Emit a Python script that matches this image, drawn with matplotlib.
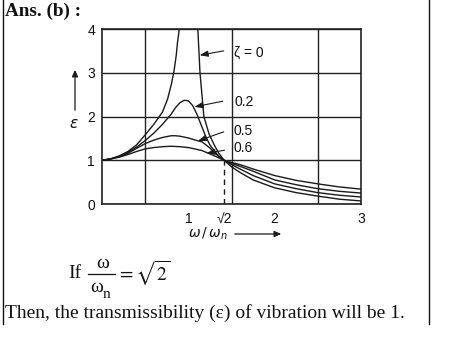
import numpy as np
import matplotlib
matplotlib.use("Agg")
import matplotlib.pyplot as plt

# ---- data (frequency ratio r = omega/omega_n, transmissibility eps) ----
z0_left_r = [0, 0.1, 0.2, 0.3, 0.4, 0.5, 0.6, 0.7, 0.76, 0.805, 0.835, 0.86, 0.875, 0.895]
z0_left_e = [1, 1.03, 1.1, 1.2, 1.35, 1.58, 1.82, 2.1, 2.4, 2.75, 3.05, 3.4, 3.7, 4.0]

z0_right_r = [1.11, 1.135, 1.18, 1.24, 1.3, 1.35, 1.414, 1.5, 1.6, 1.75, 2.0, 2.25, 2.5, 2.75, 3.0]
z0_right_e = [4.0, 3.0, 2.0, 1.6, 1.35, 1.17, 1.0, 0.85, 0.72, 0.55, 0.37, 0.26, 0.18, 0.11, 0.07]

z02_r = [0, 0.1, 0.2, 0.3, 0.4, 0.5, 0.6, 0.7, 0.8, 0.85, 0.9, 0.95, 1.0, 1.05, 1.1, 1.15, 1.2, 1.25,
         1.3, 1.35, 1.414, 1.5, 1.6, 1.75, 2.0, 2.25, 2.5, 2.75, 3.0]
z02_e = [1, 1.03, 1.09, 1.18, 1.3, 1.45, 1.62, 1.82, 2.05, 2.2, 2.31, 2.37, 2.36, 2.25, 2.05, 1.8,
         1.55, 1.35, 1.22, 1.1, 1.0, 0.9, 0.8, 0.65, 0.46, 0.35, 0.26, 0.2, 0.16]

z05_r = [0, 0.1, 0.2, 0.3, 0.4, 0.5, 0.6, 0.7, 0.8, 0.85, 0.9, 1.0, 1.05, 1.1, 1.16, 1.25, 1.3, 1.35,
         1.414, 1.5, 1.6, 1.75, 2.0, 2.25, 2.5, 2.75, 3.0]
z05_e = [1, 1.03, 1.08, 1.16, 1.27, 1.38, 1.46, 1.52, 1.56, 1.56, 1.55, 1.51, 1.48, 1.45, 1.42, 1.28,
         1.18, 1.09, 1.0, 0.93, 0.86, 0.75, 0.55, 0.44, 0.35, 0.29, 0.25]

z06_r = [0, 0.1, 0.2, 0.3, 0.4, 0.5, 0.6, 0.7, 0.8, 0.9, 1.0, 1.05, 1.16, 1.28, 1.414, 1.5, 1.6, 1.75,
         2.0, 2.25, 2.5, 2.75, 3.0]
z06_e = [1, 1.03, 1.07, 1.13, 1.2, 1.26, 1.29, 1.31, 1.32, 1.31, 1.29, 1.27, 1.22, 1.12, 1.0, 0.95,
         0.9, 0.8, 0.65, 0.54, 0.46, 0.39, 0.34]

x_tick_vals = [1, 1.414, 2, 3]
x_tick_labels = ["1", "√2", "2", "3"]
y_tick_vals = [0, 1, 2, 3, 4]
curve_labels = ["ζ = 0", "0.2", "0.5", "0.6"]

W, H = 457, 361
fig = plt.figure(figsize=(W / 100, H / 100), dpi=100)
fig.patch.set_facecolor("white")

ax = fig.add_axes([102 / W, 1 - 204 / H, 259 / W, 175 / H])
ax.set_xlim(0, 3)
ax.set_ylim(0, 4)

lc = "#1a1a1a"
lw = 1.0
ax.plot(z0_left_r, z0_left_e, color=lc, lw=lw)
ax.plot(z0_right_r, z0_right_e, color=lc, lw=lw)
ax.plot(z02_r, z02_e, color=lc, lw=lw)
ax.plot(z05_r, z05_e, color=lc, lw=lw)
ax.plot(z06_r, z06_e, color=lc, lw=lw)

# dashed line at sqrt(2)
ax.plot([x_tick_vals[1], x_tick_vals[1]], [0, 1], color=lc, lw=1.0, ls=(0, (4, 3)))

# grid
ax.set_xticks(x_tick_vals)
ax.set_xticklabels(x_tick_labels)
ax.set_xticks(np.arange(0.5, 3.0, 0.5), minor=True)
ax.set_yticks(y_tick_vals)
ax.xaxis.grid(True, which="minor", color="#222222", lw=1.0)
ax.yaxis.grid(True, which="major", color="#222222", lw=1.0)
ax.tick_params(which="both", length=0)
ax.tick_params(axis="x", pad=6)
ax.tick_params(axis="y", pad=5)
for lab in ax.get_xticklabels() + ax.get_yticklabels():
    lab.set_fontfamily("Liberation Sans")
    lab.set_fontsize(10)
    lab.set_color("#111111")
for s in ax.spines.values():
    s.set_color("#222222")
    s.set_linewidth(1.2)

# curve labels with arrows
ann = dict(arrowstyle="-|>,head_length=0.5,head_width=0.18", color=lc, lw=0.8, shrinkA=0, shrinkB=0)
label_pos = [(1.53, 3.47), (1.53, 2.33), (1.52, 1.67), (1.52, 1.29)]
arrow_tail = [(1.41, 3.5), (1.40, 2.35), (1.41, 1.65), (1.42, 1.23)]
arrow_head = [(1.13, 3.4), (1.07, 2.22), (1.11, 1.44), (1.21, 1.16)]
for txt, lp, at, ah in zip(curve_labels, label_pos, arrow_tail, arrow_head):
    ax.text(lp[0], lp[1], txt, fontsize=10, family="Liberation Sans", va="center", ha="left",
            color="#111111")
    ax.annotate("", xy=ah, xytext=at, arrowprops=ann)

# y label with arrow
fig.text(74 / W, 1 - 123 / H, "ε", fontsize=11, family="DejaVu Sans", style="italic",
         ha="center", va="center", color="#111111")
fig.add_artist(matplotlib.patches.FancyArrowPatch((75 / W, 1 - 113 / H), (75 / W, 1 - 67 / H),
               transform=fig.transFigure, arrowstyle="-|>,head_length=4,head_width=1.8",
               color=lc, lw=0.9, mutation_scale=1))
# x label with arrow
fig.text(208 / W, 1 - 234 / H, r"$\omega\,/\,\omega_n$", fontsize=10, ha="center", va="center",
         color="#111111")
fig.add_artist(matplotlib.patches.FancyArrowPatch((232 / W, 1 - 234 / H), (284 / W, 1 - 234 / H),
               transform=fig.transFigure, arrowstyle="-|>,head_length=4,head_width=1.8",
               color=lc, lw=0.9, mutation_scale=1))

# surrounding text
serif = "Liberation Serif"
fig.text(5 / W, 1 - 11 / H, "Ans. (b) :", fontsize=13.8, family=serif,
         weight="bold", ha="left", va="center", color="#111111")
fig.text(68 / W, 1 - 273 / H, "If", fontsize=14, family=serif,
         ha="left", va="center", color="#111111")
# fraction omega / omega_n
fig.text(102.5 / W, 1 - 263 / H, "ω", fontsize=14, family=serif, ha="center", va="center",
         color="#111111")
fig.add_artist(matplotlib.lines.Line2D([88 / W, 115 / W], [1 - 273.5 / H, 1 - 273.5 / H],
               transform=fig.transFigure, color="#111111", lw=0.9))
fig.text(96.5 / W, 1 - 288 / H, "ω", fontsize=14, family=serif, ha="center", va="center",
         color="#111111")
fig.text(102.5 / W, 1 - 294 / H, "n", fontsize=11, family=serif, ha="left", va="center",
         color="#111111")
fig.text(117 / W, 1 - 273 / H, r"$=\sqrt{2}$", fontsize=14, math_fontfamily="stix",
         ha="left", va="center", color="#111111")
fig.text(5 / W, 1 - 313 / H, "Then, the transmissibility (ε) of vibration will be 1.", fontsize=14,
         family=serif, ha="left", va="center", color="#111111")

# frame lines left and right
fig.add_artist(matplotlib.lines.Line2D([2.5 / W, 2.5 / W], [1, 1 - 324 / H], transform=fig.transFigure,
               color="#111111", lw=1.0))
fig.add_artist(matplotlib.lines.Line2D([428.5 / W, 428.5 / W], [1, 1 - 324 / H], transform=fig.transFigure,
               color="#111111", lw=1.0))

fig.savefig("out.png", dpi=100, facecolor="white")
